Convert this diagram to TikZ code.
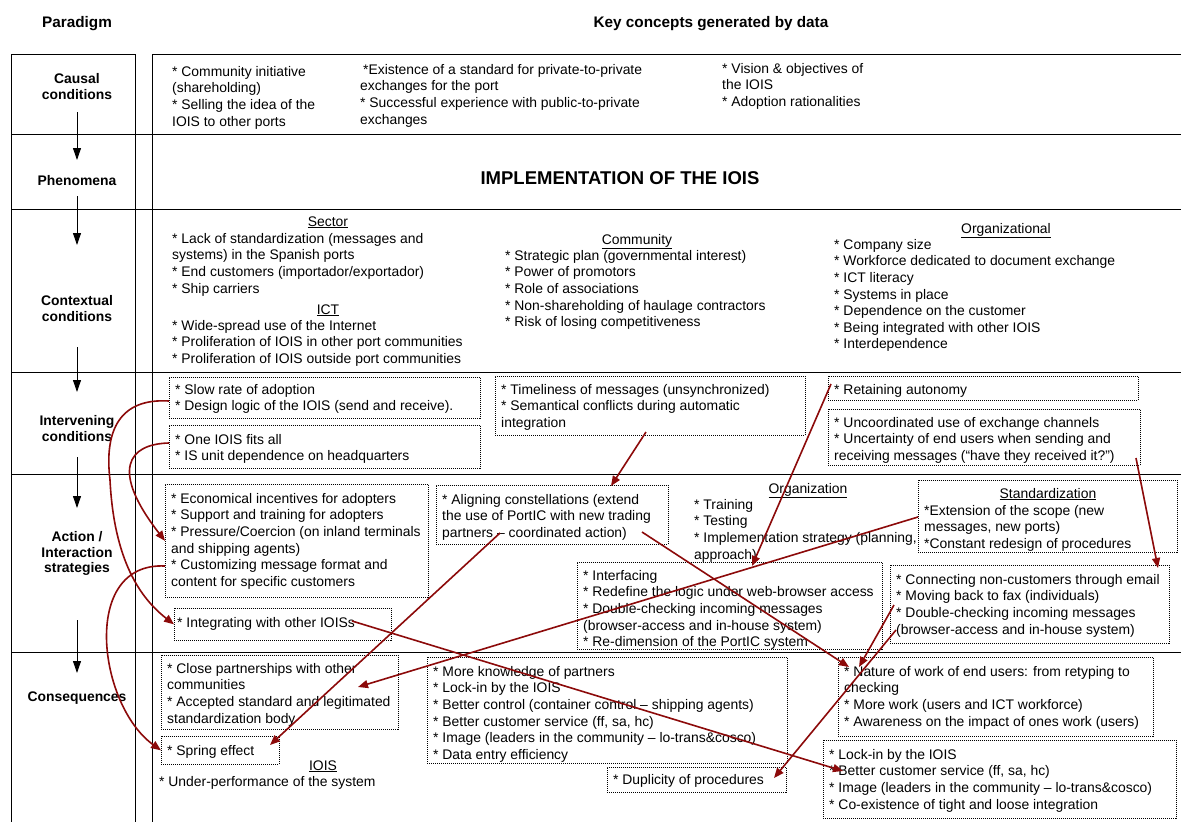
\documentclass[tikz,border=0pt]{standalone}
\usepackage{fontspec}
\setmainfont{Liberation Sans}
\usetikzlibrary{arrows.meta,calc}
\definecolor{linkred}{RGB}{140,10,10}
\newcommand\bodyfont{\fontsize{13.9}{16.6}\selectfont}
\newcommand\labfont{\bfseries\fontsize{13.9}{15.8}\selectfont}
\newcommand\hdfont{\bfseries\fontsize{15.3}{18}\selectfont}
\newcommand\ttlfont{\bfseries\fontsize{18.5}{22}\selectfont}

\begin{document}
\begin{tikzpicture}[x=1pt,y=-1pt,
  every node/.style={inner sep=0pt},
  txt/.style={anchor=north west,align=left,font=\bodyfont},
  sub/.style={anchor=base,font=\bodyfont},
  rowlab/.style={anchor=north,align=center,font=\labfont},
  hd/.style={anchor=base,font=\hdfont},
  dbox/.style 2 args={draw,line width=0.7pt,dash pattern=on 1pt off 1pt,
    anchor=north west,minimum width=#1,minimum height=#2},
  frame/.style={line width=1pt,black},
  flow/.style={line width=0.9pt,-{Triangle[length=12pt,width=8pt]}},
  rlink/.style={linkred,line width=1.6pt,-{Triangle[length=10pt,width=8pt]}}
]
\useasboundingbox (0,0) rectangle (1181,822);
\fill[white] (0,0) rectangle (1181,822);

% column headers
\node[hd] (hpar) at (77,27.5) {Paradigm};
\node[hd] (hkey) at (711,27.5) {Key concepts generated by data};

% table frame
\draw[frame] (11,822) -- (11,54) -- (135,54) -- (135,822);
\draw[frame] (152,822) -- (152,54) -- (1181,54);
\foreach \yy in {134,209,372,474,652} \draw[frame] (11,\yy) -- (1181,\yy);

% paradigm column
\node[rowlab] (lcausal) at (77,73) {Causal\\conditions};
\node[rowlab] (lphen) at (77,175) {Phenomena};
\node[rowlab] (lcontext) at (77,295) {Contextual\\conditions};
\node[rowlab] (linterv) at (77,415) {Intervening\\conditions};
\node[rowlab] (laction) at (77,531) {Action /\\Interaction\\strategies};
\node[rowlab] (lconseq) at (77,692) {Consequences};

\coordinate (f1a) at (77,112); \coordinate (f1b) at (77,160);
\coordinate (f2a) at (77,196); \coordinate (f2b) at (77,245);
\coordinate (f3a) at (77,347); \coordinate (f3b) at (77,392);
\coordinate (f4a) at (77,457); \coordinate (f4b) at (77,508);
\coordinate (f5a) at (77,620); \coordinate (f5b) at (77,673);
\draw[flow] (f1a) -- (f1b);
\draw[flow] (f2a) -- (f2b);
\draw[flow] (f3a) -- (f3b);
\draw[flow] (f4a) -- (f4b);
\draw[flow] (f5a) -- (f5b);

% causal conditions
\node[txt] (cau1) at (172,66) {* Community initiative\\(shareholding)\\* Selling the idea of the\\IOIS to other ports};
\node[txt] (cau2) at (360,64) {\hspace*{3pt}*Existence of a standard for private-to-private\\exchanges for the port\\* Successful experience with public-to-private\\exchanges};
\node[txt] (cau3) at (722,63) {* Vision \& objectives of\\the IOIS\\* Adoption rationalities};

% phenomenon
\node[font=\ttlfont] (title) at (620,178) {IMPLEMENTATION OF THE IOIS};

% contextual conditions
\node[sub] (hsector) at (328,226) {\underline{Sector}};
\node[txt] (sector) at (172,233) {* Lack of standardization (messages and\\systems) in the Spanish ports\\* End customers (importador/exportador)\\* Ship carriers};
\node[sub] (hict) at (328,314) {\underline{ICT}};
\node[txt] (ict) at (172,320) {* Wide-spread use of the Internet\\* Proliferation of IOIS in other port communities\\* Proliferation of IOIS outside port communities};
\node[sub] (hcomm) at (637,244) {\underline{Community}};
\node[txt] (comm) at (505,250) {* Strategic plan (governmental interest)\\* Power of promotors\\* Role of associations\\* Non-shareholding of haulage contractors\\* Risk of losing competitiveness};
\node[sub] (horgal) at (1006,233) {\underline{Organizational}};
\node[txt] (orgal) at (834,239) {* Company size\\* Workforce dedicated to document exchange\\* ICT literacy\\* Systems in place\\* Dependence on the customer\\* Being integrated with other IOIS\\* Interdependence};

% intervening conditions
\node[dbox={311pt}{41pt}] (b1) at (169,377) {};
\node[txt] (b1t) at (175,384) {* Slow rate of adoption\\* Design logic of the IOIS (send and receive).};
\node[dbox={311pt}{43pt}] (b2) at (169,425) {};
\node[txt] (b2t) at (175,434) {* One IOIS fits all\\* IS unit dependence on headquarters};
\node[dbox={310pt}{59pt}] (b3) at (495,376) {};
\node[txt] (b3t) at (501,384) {* Timeliness of messages (unsynchronized)\\* Semantical conflicts during automatic\\integration};
\node[dbox={310pt}{24pt}] (b4) at (828,376) {};
\node[txt] (b4t) at (834,384) {* Retaining autonomy};
\node[dbox={312pt}{56pt}] (b5) at (828,409) {};
\node[txt] (b5t) at (834,417) {* Uncoordinated use of exchange channels\\* Uncertainty of end users when sending and\\receiving messages (“have they received it?”)};

% action / interaction strategies
\node[dbox={263pt}{113pt}] (c1) at (165,484) {};
\node[txt] (c1t) at (171,493) {* Economical incentives for adopters\\* Support and training for adopters\\* Pressure/Coercion (on inland terminals\\and shipping agents)\\* Customizing message format and\\content for specific customers};
\node[dbox={217pt}{32pt}] (c2) at (174,608) {};
\node[txt] (c2t) at (177,617) {* Integrating with other IOISs};
\node[dbox={232pt}{59pt}] (c3) at (436,485) {};
\node[txt] (c3t) at (442,494) {* Aligning constellations (extend\\the use of PortIC with new trading\\partners -- coordinated action)};
\node[sub] (horg) at (808,493) {\underline{Organization}};
\node[txt] (orgn) at (694,499) {* Training\\* Testing\\* Implementation strategy (planning,\\approach)};
\node[dbox={259pt}{72pt}] (c4) at (918,480) {};
\node[sub] (hstd) at (1048,498) {\underline{Standardization}};
\node[txt] (c4t) at (924,505) {*Extension of the scope (new\\messages, new ports)\\*Constant redesign of procedures};
\node[dbox={305pt}{87pt}] (c5) at (577,562) {};
\node[txt] (c5t) at (583,570) {* Interfacing\\* Redefine the logic under web-browser access\\* Double-checking incoming messages\\(browser-access and in-house system)\\* Re-dimension of the PortIC system};
\node[dbox={279pt}{78pt}] (c6) at (890,565) {};
\node[txt] (c6t) at (896,574) {* Connecting non-customers through email\\* Moving back to fax (individuals)\\* Double-checking incoming messages\\(browser-access and in-house system)};

% consequences
\node[dbox={237pt}{74pt}] (d1) at (161,655) {};
\node[txt] (d1t) at (167,663) {* Close partnerships with other\\communities\\* Accepted standard and legitimated\\standardization body};
\node[dbox={118pt}{28pt}] (d2) at (161,736) {};
\node[txt] (d2t) at (167,745) {* Spring effect};
\node[sub] (hiois) at (323,770) {\underline{IOIS}};
\node[txt] (iois) at (159,776) {* Under-performance of the system};
\node[dbox={360pt}{106pt}] (d3) at (427,657) {};
\node[txt] (d3t) at (433,666) {* More knowledge of partners\\* Lock-in by the IOIS\\* Better control (container control -- shipping agents)\\* Better customer service (ff, sa, hc)\\* Image (leaders in the community -- lo-trans\&cosco)\\* Data entry efficiency};
\node[dbox={179pt}{25pt}] (d4) at (607,767) {};
\node[txt] (d4t) at (613,774) {* Duplicity of procedures};
\node[dbox={315pt}{79pt}] (d5) at (838,657) {};
\node[txt] (d5t) at (844,666) {* Nature of work of end users: from retyping to\\checking\\* More work (users and ICT workforce)\\* Awareness on the impact of ones work (users)};
\node[dbox={353pt}{78pt}] (d6) at (823,740) {};
\node[txt] (d6t) at (829,749) {* Lock-in by the IOIS\\* Better customer service (ff, sa, hc)\\* Image (leaders in the community -- lo-trans\&cosco)\\* Co-existence of tight and loose integration};

% link end points
\coordinate (r1a) at ($(b1.north west)+(0,24)$);
\coordinate (r2a) at ($(b2.north west)+(0,18)$);
\coordinate (r3a) at ($(c1.north west)+(0,82)$);
\coordinate (r4a) at ($(b3.north west)+(151,56)$);
\coordinate (r4b) at ($(c3.north west)+(175,1)$);
\coordinate (r5a) at ($(b4.north west)+(3,8)$);
\coordinate (r5b) at ($(c5.north west)+(175,4)$);
\coordinate (r6a) at ($(b5.north west)+(308,49)$);
\coordinate (r6b) at ($(c6.north west)+(268,3)$);
\coordinate (r7a) at ($(c3.north west)+(64,48)$);
\coordinate (r7b) at ($(d2.north west)+(109,9)$);
\coordinate (r8a) at ($(c3.north west)+(206,47)$);
\coordinate (r8b) at ($(d5.north west)+(11,10)$);
\coordinate (r9a) at ($(c4.north west)+(0,37)$);
\coordinate (r9b) at ($(d1.north west)+(197,32)$);
\coordinate (r10a) at ($(c2.north west)+(178,13)$);
\coordinate (r10b) at ($(d6.north west)+(20,31)$);
\coordinate (r11a) at ($(c6.north west)+(4,40)$);
\coordinate (r11b) at ($(d5.north west)+(21,10)$);
\coordinate (r12a) at ($(c6.north west)+(6,65)$);
\coordinate (r12b) at ($(d4.north west)+(167,11)$);

% links between concepts
\draw[rlink] (r1a) .. controls (120,398) and (104,430) .. (110,480)
  .. controls (114,560) and (140,598) .. (c2.west);
\draw[rlink] (r2a) .. controls (128,444) and (110,470) .. (c1.west);
\draw[rlink] (r3a) .. controls (80,562) and (98,705) .. (d2.west);
\draw[rlink] (r4a) -- (r4b);
\draw[rlink] (r5a) -- (r5b);
\draw[rlink] (r6a) -- (r6b);
\draw[rlink] (r7a) -- (r7b);
\draw[rlink] (r8a) -- (r8b);
\draw[rlink] (r9a) -- (r9b);
\draw[rlink] (r10a) -- (r10b);
\draw[rlink] (r11a) -- (r11b);
\draw[rlink] (r12a) -- (r12b);
\end{tikzpicture}
\end{document}
